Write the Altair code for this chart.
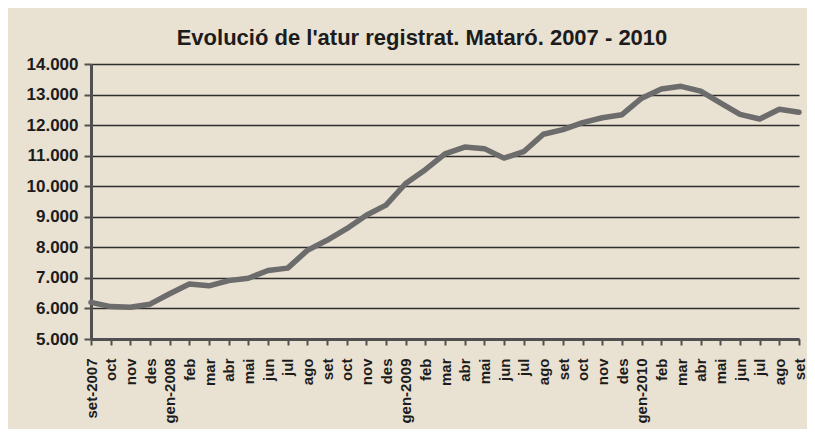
import altair as alt
import pandas as pd

labels = ["set-2007", "oct", "nov", "des", "gen-2008", "feb", "mar", "abr", "mai", "jun",
          "jul", "ago", "set", "oct", "nov", "des", "gen-2009", "feb", "mar", "abr",
          "mai", "jun", "jul", "ago", "set", "oct", "nov", "des", "gen-2010", "feb",
          "mar", "abr", "mai", "jun", "jul", "ago", "set"]
values = [6200, 6060, 6040, 6140, 6480, 6800, 6740, 6910, 6990, 7240,
          7320, 7900, 8230, 8610, 9050, 9380, 10090, 10540, 11060, 11280,
          11230, 10920, 11130, 11700, 11850, 12080, 12240, 12340, 12880, 13180,
          13270, 13110, 12730, 12350, 12200, 12520, 12420]
y_ticks = [5000, 6000, 7000, 8000, 9000, 10000, 11000, 12000, 13000, 14000]

df = pd.DataFrame({"i": list(range(len(values))), "atur": values, "mes": labels})
label_js = "[" + ",".join("'" + l + "'" for l in labels) + "]"

FONT = "Liberation Sans"
INK = "#1c1c1c"

chart = alt.Chart(df).mark_line(
    color="#6c6c6c", strokeWidth=5.5, strokeJoin="round", strokeCap="round"
).encode(
    x=alt.X("i:Q",
            scale=alt.Scale(domain=[0, len(values) - 1], nice=False, zero=False),
            axis=alt.Axis(values=list(range(len(values))),
                          labelExpr=label_js + "[datum.value]",
                          labelAngle=-90, labelPadding=13, tickSize=6,
                          grid=False, title=None, labelFontSize=15)),
    y=alt.Y("atur:Q",
            scale=alt.Scale(domain=[5000, 14000], nice=False, zero=False),
            axis=alt.Axis(values=y_ticks,
                          labelExpr="replace(format(datum.value, ','), ',', '.')",
                          grid=True, title=None, tickSize=7, labelPadding=6,
                          labelFontSize=17)),
).properties(
    width=708,
    height=275,
    autosize=alt.AutoSizeParams(type="none"),
    padding={"left": 83, "top": 56, "right": 8, "bottom": 90},
    background="#e9e1d2",
    title=alt.TitleParams(
        "Evolució de l'atur registrat. Mataró. 2007 - 2010",
        font=FONT, fontSize=22, fontWeight="bold", color=INK,
        anchor="middle", frame="group", dx=-23, offset=17, dy=29,
        baseline="alphabetic",
    ),
).configure_view(
    stroke=None
).configure_axis(
    labelFont=FONT, labelFontWeight="bold", labelColor=INK,
    domainColor="#505050", domainWidth=3,
    tickColor="#505050", tickWidth=2,
    gridColor="#2e2e2e", gridWidth=1.3,
)

chart.save("out.html", embed_options={"renderer": "svg", "actions": False})
